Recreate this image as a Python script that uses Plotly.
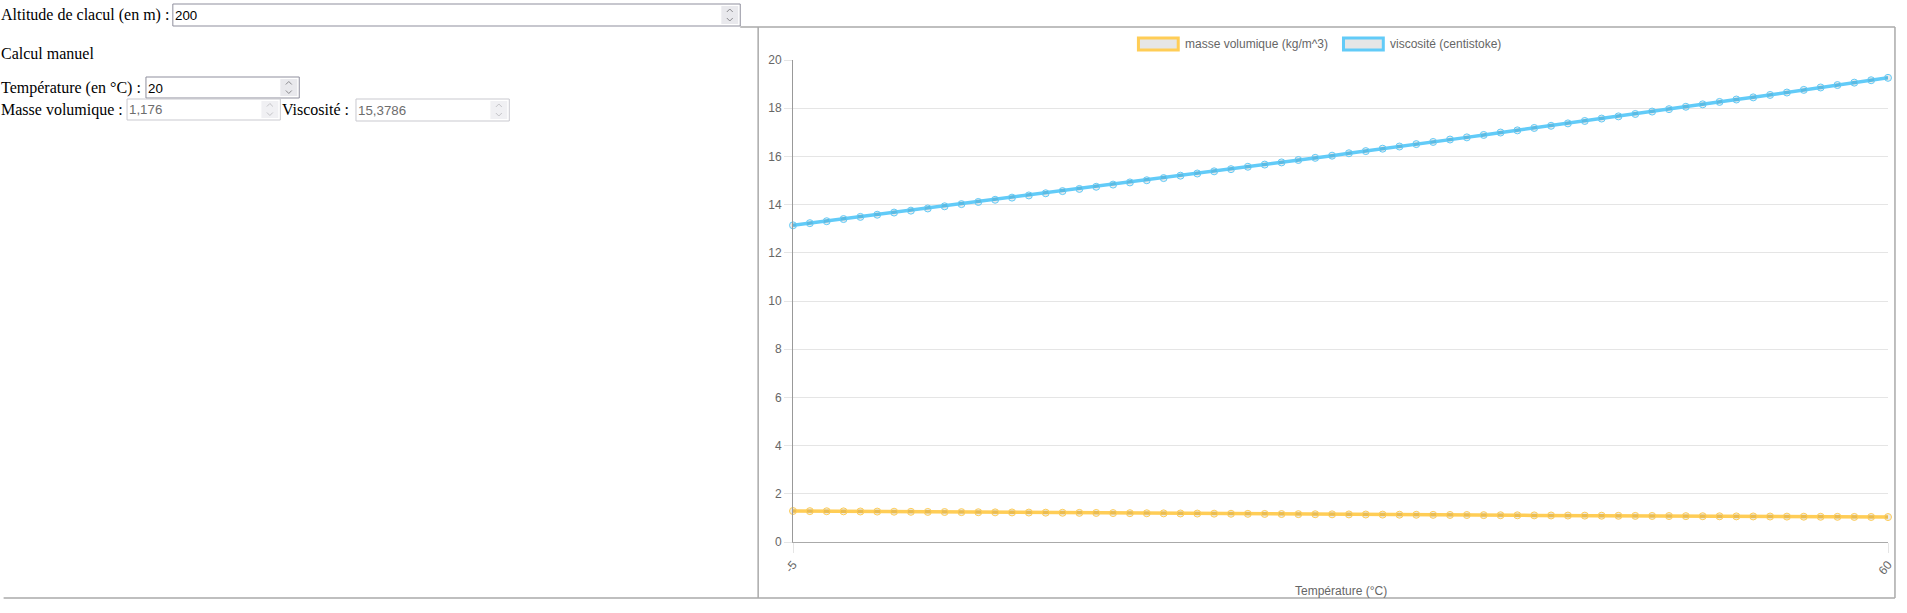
import plotly.graph_objects as go

# ---------------- data ----------------
temperature = [-5, -4, -3, -2, -1, 0, 1, 2, 3, 4, 5, 6, 7, 8, 9, 10, 11, 12, 13, 14,
               15, 16, 17, 18, 19, 20, 21, 22, 23, 24, 25, 26, 27, 28, 29, 30, 31, 32,
               33, 34, 35, 36, 37, 38, 39, 40, 41, 42, 43, 44, 45, 46, 47, 48, 49, 50,
               51, 52, 53, 54, 55, 56, 57, 58, 59, 60]

masse_volumique = [1.286, 1.281, 1.276, 1.271, 1.267, 1.262, 1.257, 1.253, 1.248, 1.244,
                   1.239, 1.235, 1.230, 1.226, 1.222, 1.217, 1.213, 1.209, 1.205, 1.200,
                   1.196, 1.192, 1.188, 1.184, 1.180, 1.176, 1.172, 1.168, 1.164, 1.160,
                   1.156, 1.152, 1.148, 1.145, 1.141, 1.137, 1.133, 1.130, 1.126, 1.122,
                   1.119, 1.115, 1.111, 1.108, 1.104, 1.101, 1.097, 1.094, 1.090, 1.087,
                   1.083, 1.080, 1.077, 1.073, 1.070, 1.067, 1.063, 1.060, 1.057, 1.054,
                   1.050, 1.047, 1.044, 1.041, 1.038, 1.035]

viscosite = [13.14, 13.23, 13.31, 13.40, 13.49, 13.58, 13.67, 13.75, 13.84, 13.93,
             14.02, 14.11, 14.20, 14.29, 14.38, 14.47, 14.56, 14.65, 14.74, 14.83,
             14.92, 15.01, 15.10, 15.20, 15.29, 15.38, 15.47, 15.57, 15.66, 15.75,
             15.85, 15.94, 16.03, 16.13, 16.22, 16.32, 16.41, 16.51, 16.60, 16.70,
             16.79, 16.89, 16.99, 17.08, 17.18, 17.27, 17.37, 17.47, 17.57, 17.66,
             17.76, 17.86, 17.96, 18.06, 18.16, 18.26, 18.36, 18.45, 18.55, 18.65,
             18.76, 18.86, 18.96, 19.06, 19.16, 19.26]

x_tick_values = [-5, 60]
x_tick_labels = ["-5", "60"]
series_names = ["masse volumique (kg/m^3)", "viscosité (centistoke)"]

# ---------------- geometry ----------------
W, H = 1907, 613
L, R, T, B = 793, 1893, 60, 542
PW, PH = R - L, B - T

def px(x):
    return (x - L) / PW

def py(y):
    return (B - y) / PH

YELLOW = "rgb(255,205,86)"
BLUE = "rgb(98,203,248)"
GRID = "rgba(0,0,0,0.1)"
SERIF = "Liberation Serif"
SANS = "Liberation Sans"

fig = go.Figure()
for vals, col, name in [(masse_volumique, YELLOW, series_names[0]),
                        (viscosite, BLUE, series_names[1])]:
    fig.add_trace(go.Scatter(
        x=temperature, y=vals, mode="lines+markers", name=name,
        line=dict(color=col, width=3.5),
        marker=dict(size=7, color="rgba(0,0,0,0.08)", line=dict(color=col, width=1)),
        cliponaxis=False, showlegend=False, hoverinfo="skip"))

shapes = []
annotations = []

def rect(x0, y0, x1, y1, line="#aaa", fill=None, width=1):
    shapes.append(dict(type="rect", xref="paper", yref="paper",
                       x0=px(x0), x1=px(x1), y0=py(y0), y1=py(y1),
                       line=dict(color=line, width=width),
                       fillcolor=fill if fill else "rgba(0,0,0,0)"))

def hline(x0, x1, y, color="#aaa", width=1.5):
    shapes.append(dict(type="line", xref="paper", yref="paper",
                       x0=px(x0), x1=px(x1), y0=py(y), y1=py(y),
                       line=dict(color=color, width=width)))

def vline(x, y0, y1, color="#aaa", width=1.5):
    shapes.append(dict(type="line", xref="paper", yref="paper",
                       x0=px(x), x1=px(x), y0=py(y0), y1=py(y1),
                       line=dict(color=color, width=width)))

def path(points, color, width=1):
    d = "M " + " L ".join(f"{px(a):.6f},{py(b):.6f}" for a, b in points)
    shapes.append(dict(type="path", xref="paper", yref="paper", path=d,
                       line=dict(color=color, width=width)))

def text(x, y, s, size=16, color="black", family=SERIF, anchor="left", shift=0):
    annotations.append(dict(x=px(x + shift), y=py(y), xref="paper", yref="paper",
                            text=s, showarrow=False, xanchor=anchor, yanchor="middle",
                            font=dict(family=family, size=size, color=color),
                            borderpad=0))

def label(x, y, s):
    text(x, y, s, shift=-4)

def input_box(x0, y0, x1, y1, value, disabled=False, spin_w=17):
    border = "#c9c9cf" if disabled else "#8f8f9d"
    rect(x0, y0, x1, y1, line=border, fill="white", width=1)
    sx0, sx1 = x1 - spin_w - 2, x1 - 2
    rect(sx0, y0 + 2, sx1, y1 - 2, line="rgba(0,0,0,0)",
         fill="#f0f0f3" if disabled else "#e9e9ed")
    cx = (sx0 + sx1) / 2
    cy = (y0 + y1) / 2
    ac = "#c4c4c8" if disabled else "#8a8a8e"
    path([(cx - 3, cy - 3), (cx, cy - 6), (cx + 3, cy - 3)], ac)
    path([(cx - 3, cy + 3), (cx, cy + 6), (cx + 3, cy + 3)], ac)
    text(x0 + 1, cy + 0.5, value, size=13.3, family=SANS,
         color="#6d6d6d" if disabled else "black")

# container borders
hline(740, 1900, 27)
vline(758, 27, 598)
vline(1900, 27, 598)
hline(0, 1900, 598)

# form
label(0, 15, "Altitude de clacul (en m) :")
input_box(170, 4, 740, 26, "200")
label(0, 53, "Calcul manuel")
label(0, 88, "Température (en °C) :")
input_box(143, 77, 297, 98, "20")
label(0, 110, "Masse volumique :")
input_box(124, 99, 278, 120, "1,176", disabled=True)
label(283, 110, "Viscosité :")
input_box(354, 99, 508, 121, "15,3786", disabled=True)

# chart legend
for (bx, tx, col, name) in [(1140, 1186, YELLOW, series_names[0]),
                            (1346, 1392, BLUE, series_names[1])]:
    rect(bx, 38, bx + 40, 50, line=col, fill="#e6e6e6", width=3)
    text(tx, 44, name, size=12, color="#666", family=SANS)

# x axis title
text(1343, 591, "Température (°C)", size=12, color="#666", family=SANS, anchor="center")

fig.update_layout(
    width=W, height=H,
    margin=dict(l=L, r=W - R, t=T, b=H - B, pad=0),
    paper_bgcolor="white", plot_bgcolor="white",
    shapes=shapes, annotations=annotations,
    font=dict(family=SANS, size=12, color="#666"),
    xaxis=dict(range=[-5, 60], tickmode="array", tickvals=x_tick_values,
               ticktext=x_tick_labels, tickangle=-50, showgrid=True, gridcolor=GRID,
               gridwidth=1, zeroline=False, showline=True, linecolor="#aaa",
               linewidth=1, ticks="outside", ticklen=10, tickcolor=GRID,
               tickfont=dict(family=SANS, size=12, color="#666")),
    yaxis=dict(range=[0, 20], dtick=2, showgrid=True, gridcolor=GRID, gridwidth=1,
               zeroline=False, showline=True, linecolor="#999", linewidth=1,
               ticks="outside", ticklen=8, tickcolor=GRID,
               tickfont=dict(family=SANS, size=12, color="#666")),
)

fig.write_html("out.html", config={"displayModeBar": False},
               post_script="document.body.style.margin='0';document.body.style.overflow='hidden';")
